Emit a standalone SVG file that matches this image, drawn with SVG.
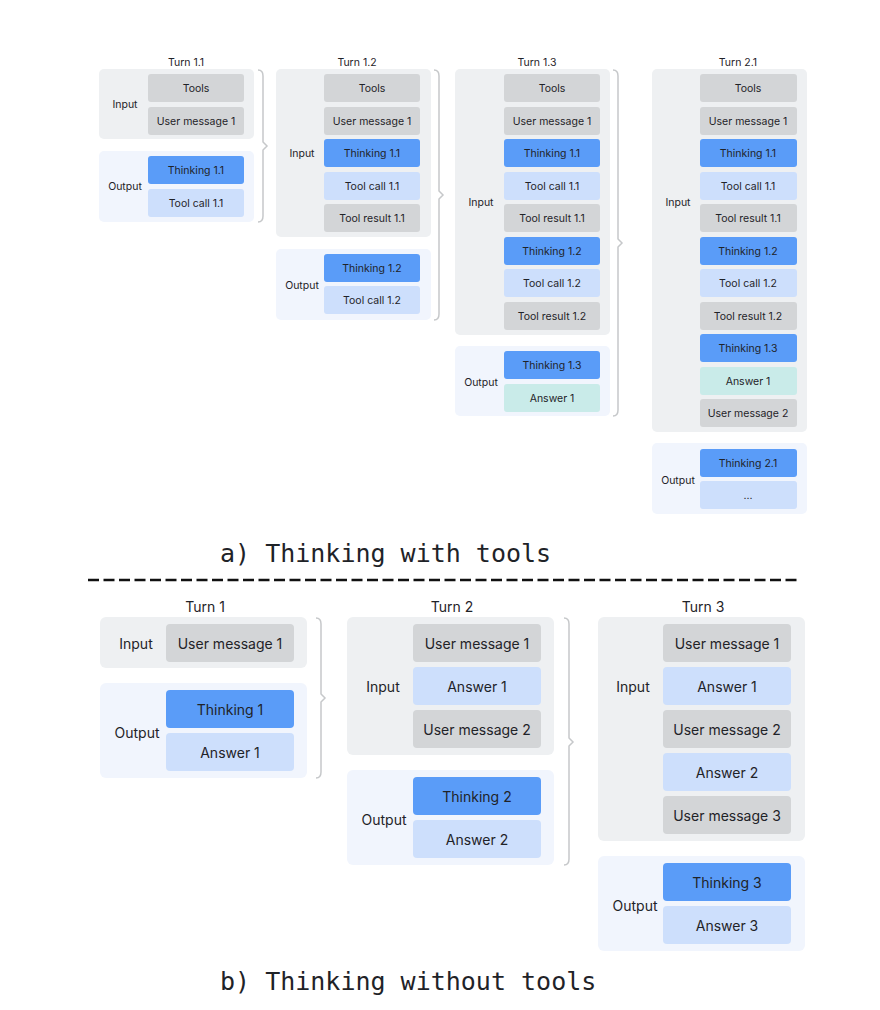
<svg xmlns="http://www.w3.org/2000/svg" width="880" height="1010" viewBox="0 0 880 1010">
<style>
text{font-family:Inter,"Liberation Sans",sans-serif;fill:#1f2328;text-anchor:middle;dominant-baseline:central}
.s{font-size:10.5px}.b{font-size:14px}
.pi{fill:#eef0f2}.po{fill:#f1f5fd}
.g{fill:#d3d5d7}.t{fill:#5a9cf8}.l{fill:#cddffc}.a{fill:#c9ebe9}
.br{fill:none;stroke:#c6c8ca;stroke-width:1.5}
.cap{font-family:"DejaVu Sans Mono","Liberation Mono",monospace;font-size:25px;text-anchor:start}
</style>
<rect width="880" height="1010" fill="#fff"/>
<g id="connectors">
<path class="br" d="M258,70 Q263,70 263,76 L263,142 L267,146 L263,150 L263,216 Q263,222 258,222"/>
<path class="br" d="M434,70 Q439,70 439,76 L439,191 L443,195 L439,199 L439,314 Q439,320 434,320"/>
<path class="br" d="M613,70 Q618,70 618,76 L618,239 L622,243 L618,247 L618,410 Q618,416 613,416"/>
<path class="br" d="M316,618 Q321,618 321,624 L321,694 L325,698 L321,702 L321,772 Q321,778 316,778"/>
<path class="br" d="M564,618 Q569,618 569,624 L569,738 L573,742 L569,746 L569,859 Q569,865 564,865"/>
</g>
<g id="turn11" class="s">
<text x="186" y="62">Turn 1.1</text>
<rect class="pi" x="99" y="69" width="155" height="70" rx="5"/>
<text x="125" y="104">Input</text>
<rect class="g" x="148" y="74" width="96" height="28" rx="3"/><text x="196" y="88">Tools</text>
<rect class="g" x="148" y="107" width="96" height="28" rx="3"/><text x="196" y="121">User message 1</text>
<rect class="po" x="99" y="151" width="155" height="71" rx="5"/>
<text x="125" y="186">Output</text>
<rect class="t" x="148" y="156" width="96" height="28" rx="3"/><text x="196" y="170">Thinking 1.1</text>
<rect class="l" x="148" y="189" width="96" height="28" rx="3"/><text x="196" y="203">Tool call 1.1</text>
</g>
<g id="turn12" class="s">
<text x="357" y="62">Turn 1.2</text>
<rect class="pi" x="276" y="69" width="155" height="168" rx="5"/>
<text x="302" y="153">Input</text>
<rect class="g" x="324" y="74" width="96" height="28" rx="3"/><text x="372" y="88">Tools</text>
<rect class="g" x="324" y="107" width="96" height="28" rx="3"/><text x="372" y="121">User message 1</text>
<rect class="t" x="324" y="139" width="96" height="28" rx="3"/><text x="372" y="153">Thinking 1.1</text>
<rect class="l" x="324" y="172" width="96" height="28" rx="3"/><text x="372" y="186">Tool call 1.1</text>
<rect class="g" x="324" y="204" width="96" height="28" rx="3"/><text x="372" y="218">Tool result 1.1</text>
<rect class="po" x="276" y="249" width="155" height="71" rx="5"/>
<text x="302" y="285">Output</text>
<rect class="t" x="324" y="254" width="96" height="28" rx="3"/><text x="372" y="268">Thinking 1.2</text>
<rect class="l" x="324" y="286" width="96" height="28" rx="3"/><text x="372" y="300">Tool call 1.2</text>
</g>
<g id="turn13" class="s">
<text x="537" y="62">Turn 1.3</text>
<rect class="pi" x="455" y="69" width="155" height="266" rx="5"/>
<text x="481" y="202">Input</text>
<rect class="g" x="504" y="74" width="96" height="28" rx="3"/><text x="552" y="88">Tools</text>
<rect class="g" x="504" y="107" width="96" height="28" rx="3"/><text x="552" y="121">User message 1</text>
<rect class="t" x="504" y="139" width="96" height="28" rx="3"/><text x="552" y="153">Thinking 1.1</text>
<rect class="l" x="504" y="172" width="96" height="28" rx="3"/><text x="552" y="186">Tool call 1.1</text>
<rect class="g" x="504" y="204" width="96" height="28" rx="3"/><text x="552" y="218">Tool result 1.1</text>
<rect class="t" x="504" y="237" width="96" height="28" rx="3"/><text x="552" y="251">Thinking 1.2</text>
<rect class="l" x="504" y="269" width="96" height="28" rx="3"/><text x="552" y="283">Tool call 1.2</text>
<rect class="g" x="504" y="302" width="96" height="28" rx="3"/><text x="552" y="316">Tool result 1.2</text>
<rect class="po" x="455" y="346" width="155" height="70" rx="5"/>
<text x="481" y="382">Output</text>
<rect class="t" x="504" y="351" width="96" height="28" rx="3"/><text x="552" y="365">Thinking 1.3</text>
<rect class="a" x="504" y="384" width="96" height="28" rx="3"/><text x="552" y="398">Answer 1</text>
</g>
<g id="turn21" class="s">
<text x="738" y="62">Turn 2.1</text>
<rect class="pi" x="652" y="69" width="155" height="363" rx="5"/>
<text x="678" y="202">Input</text>
<rect class="g" x="700" y="74" width="97" height="28" rx="3"/><text x="748" y="88">Tools</text>
<rect class="g" x="700" y="107" width="97" height="28" rx="3"/><text x="748" y="121">User message 1</text>
<rect class="t" x="700" y="139" width="97" height="28" rx="3"/><text x="748" y="153">Thinking 1.1</text>
<rect class="l" x="700" y="172" width="97" height="28" rx="3"/><text x="748" y="186">Tool call 1.1</text>
<rect class="g" x="700" y="204" width="97" height="28" rx="3"/><text x="748" y="218">Tool result 1.1</text>
<rect class="t" x="700" y="237" width="97" height="28" rx="3"/><text x="748" y="251">Thinking 1.2</text>
<rect class="l" x="700" y="269" width="97" height="28" rx="3"/><text x="748" y="283">Tool call 1.2</text>
<rect class="g" x="700" y="302" width="97" height="28" rx="3"/><text x="748" y="316">Tool result 1.2</text>
<rect class="t" x="700" y="334" width="97" height="28" rx="3"/><text x="748" y="348">Thinking 1.3</text>
<rect class="a" x="700" y="367" width="97" height="28" rx="3"/><text x="748" y="381">Answer 1</text>
<rect class="g" x="700" y="399" width="97" height="28" rx="3"/><text x="748" y="413">User message 2</text>
<rect class="po" x="652" y="443" width="155" height="71" rx="5"/>
<text x="678" y="480">Output</text>
<rect class="t" x="700" y="449" width="97" height="28" rx="3"/><text x="748" y="463">Thinking 2.1</text>
<rect class="l" x="700" y="481" width="97" height="28" rx="3"/><text x="748" y="495">...</text>
</g>
<text class="cap" x="220" y="553">a) Thinking with tools</text>
<line x1="88" y1="580" x2="800" y2="580" stroke="#111" stroke-width="2.5" stroke-dasharray="11,4.5"/>
<g id="turn1" class="b">
<text x="205" y="606">Turn 1</text>
<rect class="pi" x="100" y="617" width="207" height="51" rx="6"/>
<text x="136" y="643">Input</text>
<rect class="g" x="166" y="624" width="128" height="38" rx="4"/><text x="230" y="643">User message 1</text>
<rect class="po" x="100" y="683" width="207" height="95" rx="6"/>
<text x="137" y="732">Output</text>
<rect class="t" x="166" y="690" width="128" height="38" rx="4"/><text x="230" y="709">Thinking 1</text>
<rect class="l" x="166" y="733" width="128" height="38" rx="4"/><text x="230" y="752">Answer 1</text>
</g>
<g id="turn2" class="b">
<text x="452" y="606">Turn 2</text>
<rect class="pi" x="347" y="617" width="207" height="138" rx="6"/>
<text x="383" y="686">Input</text>
<rect class="g" x="413" y="624" width="128" height="38" rx="4"/><text x="477" y="643">User message 1</text>
<rect class="l" x="413" y="667" width="128" height="38" rx="4"/><text x="477" y="686">Answer 1</text>
<rect class="g" x="413" y="710" width="128" height="38" rx="4"/><text x="477" y="729">User message 2</text>
<rect class="po" x="347" y="770" width="207" height="95" rx="6"/>
<text x="384" y="819">Output</text>
<rect class="t" x="413" y="777" width="128" height="38" rx="4"/><text x="477" y="796">Thinking 2</text>
<rect class="l" x="413" y="820" width="128" height="38" rx="4"/><text x="477" y="839">Answer 2</text>
</g>
<g id="turn3" class="b">
<text x="703" y="606">Turn 3</text>
<rect class="pi" x="598" y="617" width="207" height="224" rx="6"/>
<text x="633" y="686">Input</text>
<rect class="g" x="663" y="624" width="128" height="38" rx="4"/><text x="727" y="643">User message 1</text>
<rect class="l" x="663" y="667" width="128" height="38" rx="4"/><text x="727" y="686">Answer 1</text>
<rect class="g" x="663" y="710" width="128" height="38" rx="4"/><text x="727" y="729">User message 2</text>
<rect class="l" x="663" y="753" width="128" height="38" rx="4"/><text x="727" y="772">Answer 2</text>
<rect class="g" x="663" y="796" width="128" height="38" rx="4"/><text x="727" y="815">User message 3</text>
<rect class="po" x="598" y="856" width="207" height="95" rx="6"/>
<text x="635" y="905">Output</text>
<rect class="t" x="663" y="863" width="128" height="38" rx="4"/><text x="727" y="882">Thinking 3</text>
<rect class="l" x="663" y="906" width="128" height="38" rx="4"/><text x="727" y="925">Answer 3</text>
</g>
<text class="cap" x="220" y="981">b) Thinking without tools</text>
</svg>
